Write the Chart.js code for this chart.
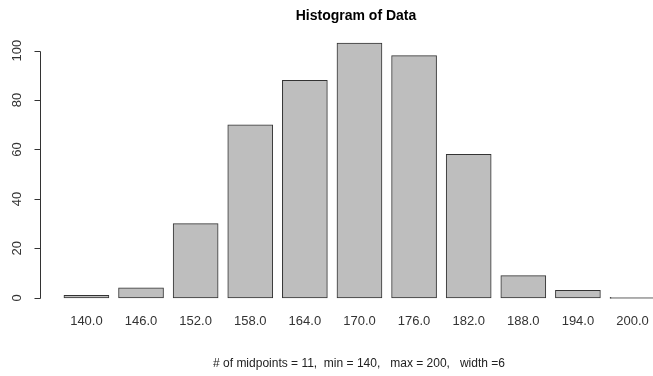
<!DOCTYPE html>
<html>
<head>
<meta charset="utf-8">
<title>Histogram of Data</title>
<script src="https://cdn.jsdelivr.net/npm/chart.js@4/dist/chart.umd.min.js"></script>
<style>
  html, body { margin: 0; padding: 0; background: #fff; }
  #wrap { width: 653px; height: 376px; }
</style>
</head>
<body>
<div id="wrap"><canvas id="hist" width="653" height="376"></canvas></div>
<script>
// values
const midpoints = [140, 146, 152, 158, 164, 170, 176, 182, 188, 194, 200];
const counts = [1, 4, 30, 70, 88, 103, 98, 58, 9, 3, 0];
const yTicks = [0, 20, 40, 60, 80, 100];
const titleText = 'Histogram of Data';
const subText = '# of midpoints = 11,  min = 140,   max = 200,   width =6';

const FONT = '"Liberation Sans", Arial, sans-serif';

// R style axes, labels and titles drawn on top of the library's scales
const rDecor = {
    id: 'rDecor',
    afterDraw(chart) {
        const ctx = chart.ctx;
        const x = chart.scales.x;
        const y = chart.scales.y;
        ctx.save();
        ctx.strokeStyle = '#333';
        ctx.fillStyle = '#333';
        ctx.lineWidth = 1;

        // y axis line + ticks
        const ax = 40.5;
        const yTop = Math.round(y.getPixelForValue(yTicks[yTicks.length - 1])) + 0.5;
        const yBot = Math.round(y.getPixelForValue(yTicks[0])) + 0.5;
        ctx.beginPath();
        ctx.moveTo(ax, yTop);
        ctx.lineTo(ax, yBot);
        yTicks.forEach(t => {
            const py = Math.round(y.getPixelForValue(t)) + 0.5;
            ctx.moveTo(ax, py);
            ctx.lineTo(ax - 6, py);
        });
        ctx.stroke();

        ctx.font = '13px ' + FONT;
        ctx.textAlign = 'center';
        ctx.textBaseline = 'middle';
        yTicks.forEach(t => {
            ctx.save();
            ctx.translate(17, y.getPixelForValue(t));
            ctx.rotate(-Math.PI / 2);
            ctx.fillText(String(t), 0, 0);
            ctx.restore();
        });

        // category labels under the bars
        midpoints.forEach(m => {
            ctx.fillText(m.toFixed(1), x.getPixelForValue(m), 321);
        });

        ctx.fillStyle = '#000';
        ctx.font = 'bold 14px ' + FONT;
        ctx.fillText(titleText, 356, 16);

        ctx.fillStyle = '#222';
        ctx.font = '12px ' + FONT;
        ctx.fillText(subText, 359, 364);
        ctx.restore();
    }
};

new Chart(document.getElementById('hist'), {
    type: 'bar',
    data: {
        datasets: [{
            data: midpoints.map((m, i) => ({ x: m, y: counts[i] })),
            backgroundColor: '#bebebe',
            borderColor: '#333',
            borderWidth: 1,
            borderSkipped: false,
            barThickness: 45,
            minBarLength: 1
        }]
    },
    options: {
        responsive: false,
        animation: false,
        layout: {
            padding: { left: 40, right: 0, top: 33, bottom: 68 }
        },
        scales: {
            x: { type: 'linear', min: 134.9, max: 202.25, offset: false, display: false },
            y: { type: 'linear', min: -4.12, max: 107.12, display: false }
        },
        plugins: {
            legend: { display: false },
            title: { display: false },
            tooltip: { enabled: false }
        }
    },
    plugins: [rDecor]
});
</script>
</body>
</html>
